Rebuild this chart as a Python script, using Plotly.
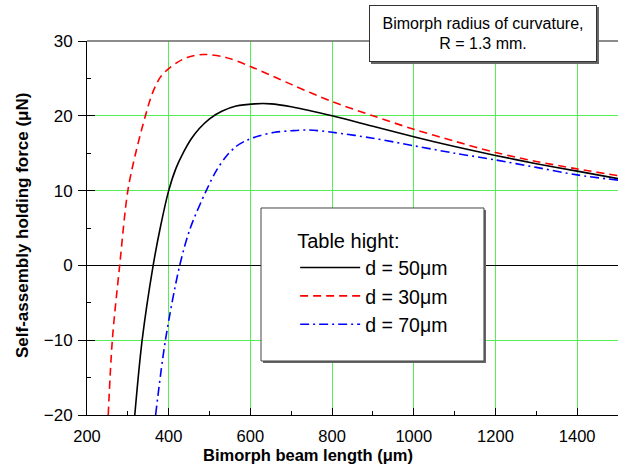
import plotly.graph_objects as go

# Beam length (um) and holding force (uN)
len_d50 = [317, 335, 362, 380, 400, 418, 437, 455, 475, 500, 530, 565, 610, 650, 700, 800, 900, 1000, 1100, 1200, 1300, 1400, 1500]
force_d50 = [-20, -10, 0, 5.2, 10, 13.0, 15.2, 16.9, 18.3, 19.6, 20.6, 21.3, 21.6, 21.6, 21.2, 20.0, 18.6, 17.2, 15.9, 14.7, 13.6, 12.6, 11.6]

len_d30 = [252, 262, 280, 300, 320, 343, 360, 380, 400, 420, 445, 484, 540, 600, 700, 800, 900, 1000, 1100, 1200, 1300, 1400, 1500]
force_d30 = [-20, -10, 0, 10, 15.2, 20, 23.0, 25.2, 26.3, 27.1, 27.8, 28.2, 27.8, 26.6, 24.2, 21.9, 20.0, 18.2, 16.6, 15.1, 13.9, 12.9, 12.0]

len_d70 = [368, 392, 427, 453, 492, 516, 541, 565, 590, 620, 660, 700, 744, 800, 900, 1000, 1100, 1200, 1300, 1400, 1500]
force_d70 = [-20, -10, 0, 5, 10, 12.6, 14.6, 15.9, 16.7, 17.3, 17.8, 18.0, 18.1, 17.8, 17.0, 16.0, 15.0, 14.1, 13.1, 12.1, 11.4]

series_names = ["d = 50\u03bcm", "d = 30\u03bcm", "d = 70\u03bcm"]
x_ticks = [200, 400, 600, 800, 1000, 1200, 1400]
y_ticks = [-20, -10, 0, 10, 20, 30]

FONT = "Liberation Sans, Arial, Helvetica, sans-serif"
GRID = "#55ee55"

fig = go.Figure()
fig.add_trace(go.Scatter(x=len_d50, y=force_d50, name=series_names[0], mode="lines",
                         line=dict(color="black", width=1.6, shape="spline", smoothing=0.9)))
fig.add_trace(go.Scatter(x=len_d30, y=force_d30, name=series_names[1], mode="lines",
                         line=dict(color="#ff0000", width=1.6, dash="8px,5px", shape="spline", smoothing=0.9)))
fig.add_trace(go.Scatter(x=len_d70, y=force_d70, name=series_names[2], mode="lines",
                         line=dict(color="#0000ff", width=1.6, dash="9px,4px,2px,4px", shape="spline", smoothing=0.9)))
# helper (empty) trace for inside tick marks on the y axis
fig.add_trace(go.Scatter(x=[], y=[], yaxis="y2", showlegend=False, hoverinfo="skip"))

fig.update_layout(
    width=618, height=464,
    margin=dict(l=87, r=0, t=41, b=49),
    paper_bgcolor="white", plot_bgcolor="white",
    font=dict(family=FONT, size=17, color="black"),
    xaxis=dict(range=[200, 1500], tickvals=x_ticks, ticks="inside", ticklen=7, tickwidth=1,
               tickcolor="black", showline=True, linecolor="black", linewidth=1,
               showgrid=True, gridcolor=GRID, gridwidth=1, zeroline=False, automargin=False,
               ticklabelstandoff=6, tickfont=dict(size=16.5),
               minor=dict(dtick=100, ticks="inside", ticklen=4, tickcolor="black", showgrid=False)),
    yaxis=dict(range=[-20, 30], tickvals=y_ticks, ticks="outside", ticklen=8, tickwidth=1,
               tickcolor="black", showline=True, linecolor="black", linewidth=1,
               showgrid=True, gridcolor=GRID, gridwidth=1, automargin=False,
               zeroline=True, zerolinecolor="black", zerolinewidth=1,
               ticklabelstandoff=2, tickfont=dict(size=17)),
    yaxis2=dict(range=[-20, 30], overlaying="y", anchor="x", side="left", automargin=False,
                tickvals=y_ticks, ticks="inside", ticklen=8, tickcolor="black",
                showticklabels=False, showgrid=False, zeroline=False, showline=False,
                minor=dict(dtick=5, ticks="inside", ticklen=4, tickcolor="black", showgrid=False)),
    legend=dict(x=0.392, y=0.515, xanchor="left", yanchor="top",
                bgcolor="rgba(0,0,0,0)", borderwidth=0,
                font=dict(family=FONT, size=19.5, color="black"),
                title=dict(text="Table hight:", font=dict(family=FONT, size=20)),
                itemwidth=60, tracegroupgap=0),
    showlegend=True,
)

# frame decorations: top border, legend box with shadow, note box shadow
fig.add_shape(type="line", xref="paper", yref="paper", x0=0, x1=1, y0=1, y1=1,
              line=dict(color="#666666", width=1.5), layer="above")
fig.add_shape(type="rect", xref="paper", yref="paper", x0=0.3315, x1=0.7514, y0=0.1390, y1=0.5481,
              line=dict(width=0), fillcolor="#666666", layer="above")
fig.add_shape(type="rect", xref="paper", yref="paper", x0=0.3277, x1=0.7476, y0=0.1444, y1=0.5535,
              line=dict(color="#444444", width=1), fillcolor="white", layer="above")
fig.add_shape(type="rect", xref="paper", yref="paper", x0=0.5348, x1=0.9642, y0=0.9385, y1=1.0909,
              line=dict(width=0), fillcolor="#666666", layer="above")

fig.add_annotation(text="Bimorph radius of curvature,<br>R = 1.3 mm.", xref="paper", yref="paper",
                   x=0.7458, y=1.0201, xanchor="center", yanchor="middle", showarrow=False,
                   font=dict(family=FONT, size=16, color="black"), align="center",
                   bgcolor="white", bordercolor="#333333", borderwidth=1, borderpad=0,
                   width=226, height=55)

# axis titles
fig.add_annotation(text="<b>Bimorph beam length (\u03bcm)</b>", xref="paper", yref="paper",
                   x=(308 - 87) / 531, y=-(455 - 415) / 374, xanchor="center", yanchor="middle",
                   showarrow=False, font=dict(family=FONT, size=16.5, color="black"))
fig.add_annotation(text="<b>Self-assembly holding force (\u03bcN)</b>", xref="paper", yref="paper",
                   x=-(87 - 22) / 531, y=(415 - 226) / 374, xanchor="center", yanchor="middle",
                   textangle=-90, showarrow=False, font=dict(family=FONT, size=17, color="black"))

fig.write_html("out.html", config={"displayModeBar": False},
               post_script="document.body.style.margin='0';")
